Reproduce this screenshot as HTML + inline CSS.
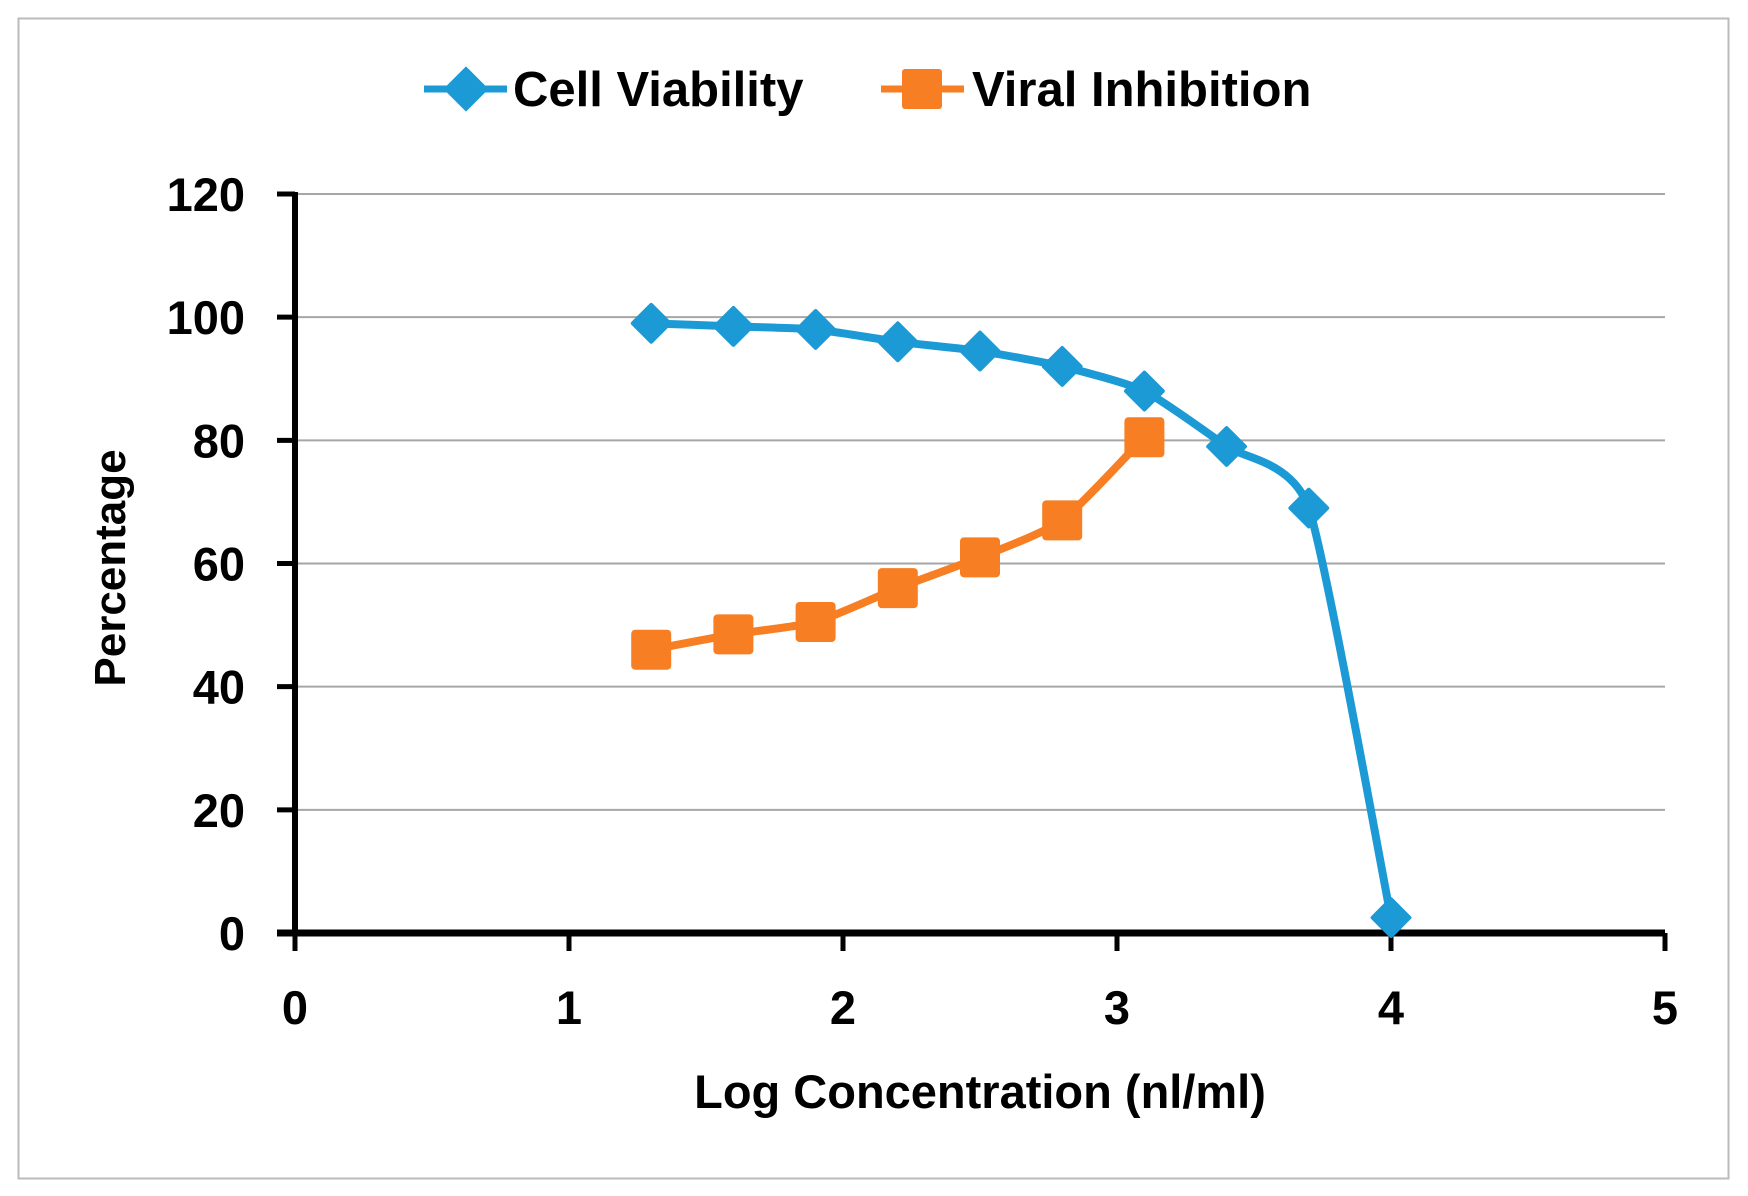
<!DOCTYPE html>
<html><head><meta charset="utf-8"><style>
html,body{margin:0;padding:0;background:#fff}
svg{display:block;font-family:"Liberation Sans",Arial,sans-serif;font-weight:bold}
</style></head><body>
<svg id="chart" width="1748" height="1196" viewBox="0 0 1748 1196">
<rect x="18.5" y="18.5" width="1710" height="1160" fill="#fff" stroke="#bbb" stroke-width="2"/>
<g id="grid"></g><g id="axes"></g><g id="series"></g>
<text x="125" y="568" font-size="44" text-anchor="middle" transform="rotate(-90 125 568)">Percentage</text>
<text x="980" y="1108" font-size="47" text-anchor="middle">Log Concentration (nl/ml)</text>
<g>
<g>
<line x1="424" y1="89" x2="507" y2="89" stroke="#1b9ad6" stroke-width="7"/>
<rect x="450" y="73" width="32" height="32" fill="#1b9ad6" transform="rotate(45 466 89)"/>
<text x="513" y="106" font-size="49">Cell Viability</text></g>
<g>
<line x1="881" y1="89" x2="964" y2="89" stroke="#f77e22" stroke-width="7"/>
<rect x="902" y="69" width="40" height="40" rx="3" fill="#f77e22"/>
<text x="972" y="106" font-size="49">Viral Inhibition</text></g>
</g>
</svg>
<script>
const xTicks=[0,1,2,3,4,5];
const yTicks=[0,20,40,60,80,100,120];
const xVals=[1.3,1.6,1.9,2.2,2.5,2.8,3.1,3.4,3.7,4.0];
const cellViability=[99,98.5,98,96,94.5,92,88,79,69,2.5];
const viralInhibition=[46,48.5,50.5,56,61,67,80.5];
const NS='http://www.w3.org/2000/svg';
const X0=295,X1=1665,Y0=933,Y1=194;
const sx=v=>X0+(v-0)/(5-0)*(X1-X0);
const sy=v=>Y0-(v-0)/(120-0)*(Y0-Y1);
function mk(t,a,p){const e=document.createElementNS(NS,t);for(const k in a)e.setAttribute(k,a[k]);p.appendChild(e);return e;}
const grid=document.getElementById('grid'),axes=document.getElementById('axes'),ser=document.getElementById('series');
yTicks.forEach(v=>{
 if(v>0){const g=mk('line',{x1:X0,x2:X1,y1:sy(v),y2:sy(v),stroke:'#a6a6a6','stroke-width':2},grid);
 
 }
 const tk=mk('line',{x1:X0-18,x2:X0,y1:sy(v),y2:sy(v),stroke:'#000','stroke-width':5},axes);
 
 
 const t=mk('text',{x:X0-50,y:sy(v)+17,'font-size':47,'text-anchor':'end'},axes);t.textContent=v;
 
 
});
xTicks.forEach(v=>{
 const tk=mk('line',{x1:sx(v),x2:sx(v),y1:Y0,y2:Y0+18,stroke:'#000','stroke-width':5},axes);
 
 
 const t=mk('text',{x:sx(v),y:1024,'font-size':47,'text-anchor':'middle'},axes);t.textContent=v;
 
 
});
const ya=mk('line',{x1:X0,x2:X0,y1:Y1-2,y2:Y0+3,stroke:'#000','stroke-width':6},axes);


const xa=mk('line',{x1:X0-18,x2:X1,y1:Y0,y2:Y0,stroke:'#000','stroke-width':7},axes);


function smooth(pts){let d='M'+pts[0][0]+','+pts[0][1];
 for(let i=0;i<pts.length-1;i++){const p0=pts[i-1]||pts[i],p1=pts[i],p2=pts[i+1],p3=pts[i+2]||p2;const k=1/10;
 d+=' C'+(p1[0]+(p2[0]-p0[0])*k)+','+(p1[1]+(p2[1]-p0[1])*k)+' '+(p2[0]-(p3[0]-p1[0])*k)+','+(p2[1]-(p3[1]-p1[1])*k)+' '+p2[0]+','+p2[1];}
 return d;}
const cp=cellViability.map((v,i)=>[sx(xVals[i]),sy(v)]);
const vp=viralInhibition.map((v,i)=>[sx(xVals[i]),sy(v)]);
const l1=mk('path',{d:smooth(cp),fill:'none',stroke:'#1b9ad6','stroke-width':8,'stroke-linejoin':'round'},ser);


const l2=mk('path',{d:smooth(vp),fill:'none',stroke:'#f77e22','stroke-width':8,'stroke-linejoin':'round'},ser);


vp.forEach((p,i)=>{const r=mk('rect',{x:p[0]-20,y:p[1]-20,width:40,height:40,rx:4,fill:'#f77e22'},ser);
 
 });
cp.forEach((p,i)=>{const r=mk('rect',{x:p[0]-15,y:p[1]-15,width:30,height:30,rx:2,fill:'#1b9ad6',transform:'rotate(45 '+p[0]+' '+p[1]+')'},ser);
 
 });
</script>
</body></html>
